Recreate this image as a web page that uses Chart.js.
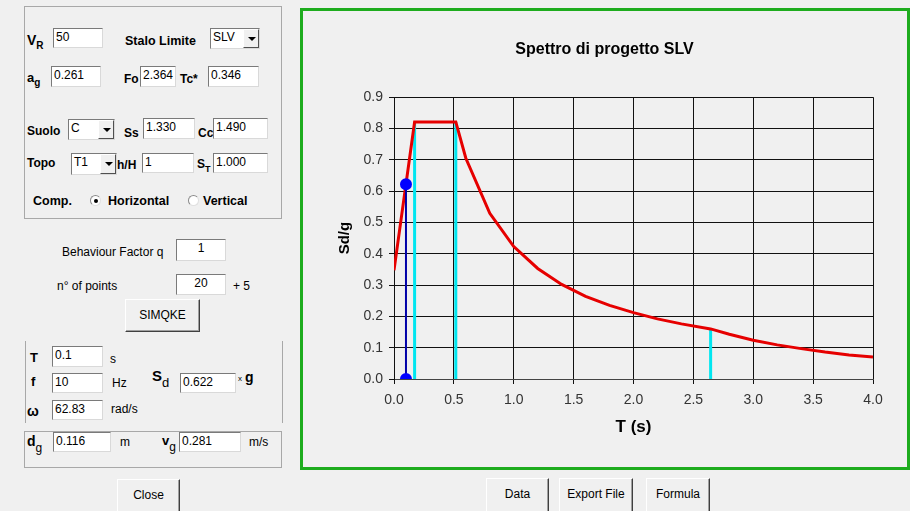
<!DOCTYPE html>
<html>
<head>
<meta charset="utf-8">
<title>Spettro di progetto SLV</title>
<script src="https://cdn.jsdelivr.net/npm/chart.js"></script>
<style>
  body { margin: 0; width: 910px; height: 511px; background: #f0f0f0; overflow: hidden; position: relative;
         font-family: "Liberation Sans", Arial, sans-serif; }
  .b { position: absolute; font: bold 12px "Liberation Sans", Arial, sans-serif; line-height: 14px; white-space: nowrap; color: #000; }
  .t { position: absolute; font: 12px "Liberation Sans", Arial, sans-serif; line-height: 14px; white-space: nowrap; color: #000; }
  .b sub, .t sub { font-size: 10px; vertical-align: -4px; line-height: 0; }
  .inp { position: absolute; box-sizing: border-box; background: #fff; border: 1px solid;
         border-color: #7a7a7a #d9d9d9 #d9d9d9 #7a7a7a; padding: 1px 2px;
         font: 12px "Liberation Sans", Arial, sans-serif; line-height: 14px; }
  .c { text-align: center; }
  .sel { position: absolute; box-sizing: border-box; background: #fff; border: 1px solid;
         border-color: #7a7a7a #d9d9d9 #d9d9d9 #7a7a7a; padding: 1px 2px;
         font: 12px "Liberation Sans", Arial, sans-serif; line-height: 14px; }
  .sel .dd { position: absolute; right: 0; top: 0; bottom: 0; width: 16px; box-sizing: border-box; background: #f0f0f0;
             border: 1px solid; border-color: #fff #505050 #505050 #fff; }
  .sel .dd:after { content: ""; position: absolute; left: 4px; top: 7px; border-left: 4px solid transparent;
                   border-right: 4px solid transparent; border-top: 4px solid #000; }
  .btn { position: absolute; box-sizing: border-box; background: #f0f0f0; border: 1px solid;
         border-color: #fff #404040 #404040 #fff; box-shadow: inset -1px -1px 0 #a0a0a0;
         font: 12px "Liberation Sans", Arial, sans-serif; text-align: center; color: #000; }
  .grp { position: absolute; box-sizing: border-box; border: 1px solid #a8a8a8; }
  .rad { position: absolute; width: 11px; height: 11px; box-sizing: border-box; border-radius: 50%;
         background: #fff; border: 1px solid; border-color: #8a8a8a #e0e0e0 #e0e0e0 #8a8a8a; }
  .rad.on:after { content: ""; position: absolute; left: 2.5px; top: 2.5px; width: 4px; height: 4px; border-radius: 50%; background: #000; }
  #frame { position: absolute; left: 300px; top: 8px; width: 604px; height: 456px; border: 3px solid #1eac1e; }
  #spettro { position: absolute; left: 0; top: 0; }
</style>
</head>
<body>

<!-- parametri sismici -->
<div class="grp" style="left:24px;top:6px;width:258px;height:213px"></div>
<div class="b" style="left:27px;top:33px;font-size:14px">V<sub>R</sub></div>
<div class="inp" style="left:53px;top:28px;width:50px;height:20px">50</div>
<div class="b" style="left:125px;top:34px;font-size:12.5px">Stalo Limite</div>
<div class="sel" style="left:210px;top:28px;width:50px;height:21px">SLV<div class="dd"></div></div>

<div class="b" style="left:27px;top:71px;font-size:13px">a<sub>g</sub></div>
<div class="inp" style="left:51px;top:66px;width:50px;height:21px">0.261</div>
<div class="b" style="left:124px;top:72px">Fo</div>
<div class="inp" style="left:140px;top:66px;width:36px;height:21px">2.364</div>
<div class="b" style="left:180px;top:72px">Tc*</div>
<div class="inp" style="left:208px;top:66px;width:51px;height:21px">0.346</div>

<div class="b" style="left:27px;top:124px">Suolo</div>
<div class="sel" style="left:68px;top:119px;width:47px;height:21px">C<div class="dd"></div></div>
<div class="b" style="left:124px;top:126px">Ss</div>
<div class="inp" style="left:143px;top:118px;width:52px;height:21px">1.330</div>
<div class="b" style="left:198px;top:126px">Cc</div>
<div class="inp" style="left:213px;top:118px;width:55px;height:21px">1.490</div>

<div class="b" style="left:27px;top:156px">Topo</div>
<div class="sel" style="left:71px;top:153px;width:46px;height:22px">T1<div class="dd"></div></div>
<div class="b" style="left:117px;top:158px">h/H</div>
<div class="inp" style="left:142px;top:153px;width:52px;height:20px">1</div>
<div class="b" style="left:197px;top:157px">S<sub style="font-size:9px">T</sub></div>
<div class="inp" style="left:213px;top:153px;width:55px;height:20px">1.000</div>

<div class="b" style="left:33px;top:194px;font-size:12.5px">Comp.</div>
<div class="rad on" style="left:90px;top:195px"></div>
<div class="b" style="left:108px;top:194px;font-size:12.5px">Horizontal</div>
<div class="rad" style="left:188px;top:195px"></div>
<div class="b" style="left:203px;top:194px;font-size:12.5px">Vertical</div>

<!-- SIMQKE -->
<div class="t" style="left:62px;top:245px">Behaviour Factor q</div>
<div class="inp c" style="left:176px;top:239px;width:50px;height:22px">1</div>
<div class="t" style="left:57px;top:279px">n° of points</div>
<div class="inp c" style="left:176px;top:274px;width:50px;height:21px">20</div>
<div class="t" style="left:233px;top:279px">+ 5</div>
<div class="btn" style="left:125px;top:299px;width:75px;height:33px;line-height:30px">SIMQKE</div>

<div style="position:absolute;left:25px;top:341px;width:1px;height:82px;background:#a8a8a8"></div>
<div style="position:absolute;left:282px;top:341px;width:1px;height:82px;background:#a8a8a8"></div>
<div class="b" style="left:30px;top:351px;font-size:13px">T</div>
<div class="inp" style="left:52px;top:346px;width:51px;height:21px">0.1</div>
<div class="t" style="left:110px;top:352px">s</div>
<div class="b" style="left:31px;top:375px;font-size:13px">f</div>
<div class="inp" style="left:52px;top:373px;width:51px;height:20px">10</div>
<div class="t" style="left:112px;top:376px">Hz</div>
<div class="b" style="left:152px;top:369px;font-size:15px">S<sub style="font-weight:normal;font-size:13px;vertical-align:-6px">d</sub></div>
<div class="inp" style="left:180px;top:373px;width:56px;height:20px">0.622</div>
<div class="t" style="left:238px;top:372px;font-size:8px">x</div>
<div class="b" style="left:245px;top:370px;font-size:14px">g</div>
<div class="b" style="left:27px;top:404px;font-size:14px">ω</div>
<div class="inp" style="left:52px;top:400px;width:51px;height:20px">62.83</div>
<div class="t" style="left:111px;top:402px">rad/s</div>

<div class="grp" style="left:24px;top:431px;width:258px;height:37px"></div>
<div class="b" style="left:27px;top:434px;font-size:14px">d<sub style="font-weight:normal;font-size:12px;vertical-align:-6px">g</sub></div>
<div class="inp" style="left:53px;top:432px;width:58px;height:20px">0.116</div>
<div class="t" style="left:120px;top:435px">m</div>
<div class="b" style="left:162px;top:434px;font-size:13px">v<sub style="font-weight:normal;font-size:12px;vertical-align:-6px">g</sub></div>
<div class="inp" style="left:179px;top:432px;width:62px;height:20px">0.281</div>
<div class="t" style="left:249px;top:435px">m/s</div>

<div class="btn" style="left:117px;top:479px;width:63px;height:34px;line-height:30px">Close</div>

<!-- grafico -->
<div id="frame"><canvas id="spettro" width="604" height="456"></canvas></div>

<div class="btn" style="left:486px;top:478px;width:63px;height:35px;line-height:30px">Data</div>
<div class="btn" style="left:559px;top:478px;width:74px;height:35px;line-height:30px">Export File</div>
<div class="btn" style="left:646px;top:478px;width:64px;height:35px;line-height:30px">Formula</div>

<script>
// spettro elastico di progetto
const periodT = [0, 0.172, 0.516, 0.6, 0.8, 1.0, 1.2, 1.4, 1.6, 1.8, 2.0, 2.2, 2.4, 2.644, 2.8, 3.0, 3.2, 3.4, 3.6, 3.8, 4.0];
const spectrumSd = [0.347, 0.821, 0.821, 0.705, 0.529, 0.423, 0.353, 0.302, 0.264, 0.235, 0.212, 0.192, 0.176, 0.160, 0.143, 0.124, 0.109, 0.097, 0.086, 0.077, 0.070];

// periodi TB, TC, TD
const cornerT = [0.172, 0.516, 2.644];
const cornerSd = [0.821, 0.821, 0.160];

// punto selezionato (T = 0.1 s)
const selectedT = [0.1];
const selectedSd = [0.622];

const xTicks = [0.0, 0.5, 1.0, 1.5, 2.0, 2.5, 3.0, 3.5, 4.0];
const yTicks = [0.0, 0.1, 0.2, 0.3, 0.4, 0.5, 0.6, 0.7, 0.8, 0.9];

const spectrumData = periodT.map((t, i) => ({ x: t, y: spectrumSd[i] }));

// il primo dataset viene disegnato sopra gli altri
const datasets = [
    {
        data: [{ x: selectedT[0], y: 0 }, { x: selectedT[0], y: selectedSd[0] }],
        borderColor: '#0000a8',
        borderWidth: 2,
        pointRadius: 5,
        pointBackgroundColor: '#0000ff',
        pointBorderColor: '#0000ff',
        clip: 0
    },
    {
        data: spectrumData,
        borderColor: '#e60000',
        borderWidth: 3,
        pointRadius: 0
    }
];
for (let i = 0; i < cornerT.length; i++) {
    datasets.push({
        data: [{ x: cornerT[i], y: 0 }, { x: cornerT[i], y: cornerSd[i] }],
        borderColor: '#00e6f0',
        borderWidth: 3,
        pointRadius: 0
    });
}

new Chart(document.getElementById('spettro'), {
    type: 'line',
    data: { datasets: datasets },
    options: {
        responsive: false,
        animation: false,
        layout: { padding: { left: 33, right: 34, top: 0, bottom: 18 } },
        plugins: {
            legend: { display: false },
            tooltip: { enabled: false },
            title: {
                display: true,
                text: 'Spettro di progetto SLV',
                color: '#000',
                font: { family: 'Liberation Sans', size: 16, weight: 'bold' },
                padding: { top: 29, bottom: 38 }
            }
        },
        scales: {
            x: {
                type: 'linear',
                min: 0,
                max: 4,
                afterBuildTicks: scale => { scale.ticks = xTicks.map(v => ({ value: v })); },
                afterFit: scale => { scale.height = 70; },
                ticks: {
                    color: '#333',
                    font: { family: 'Liberation Sans', size: 14 },
                    padding: 8,
                    callback: v => v.toFixed(1)
                },
                grid: { color: '#111', lineWidth: 1, tickLength: 5 },
                border: { color: '#444' },
                title: {
                    display: true,
                    text: 'T (s)',
                    color: '#000',
                    font: { family: 'Liberation Sans', size: 17, weight: 'bold' },
                    padding: { top: 0, bottom: 11 }
                }
            },
            y: {
                type: 'linear',
                min: 0,
                max: 0.9,
                afterBuildTicks: scale => { scale.ticks = yTicks.map(v => ({ value: v })); },
                afterFit: scale => { scale.width = 58; },
                ticks: {
                    color: '#333',
                    font: { family: 'Liberation Sans', size: 14 },
                    padding: 6,
                    callback: v => v.toFixed(1)
                },
                grid: { color: '#111', lineWidth: 1, tickLength: 5 },
                border: { color: '#111' },
                title: {
                    display: true,
                    text: 'Sd/g',
                    color: '#000',
                    font: { family: 'Liberation Sans', size: 15, weight: 'bold' },
                    padding: { top: 0, bottom: 0 }
                }
            }
        }
    }
});
</script>
</body>
</html>
